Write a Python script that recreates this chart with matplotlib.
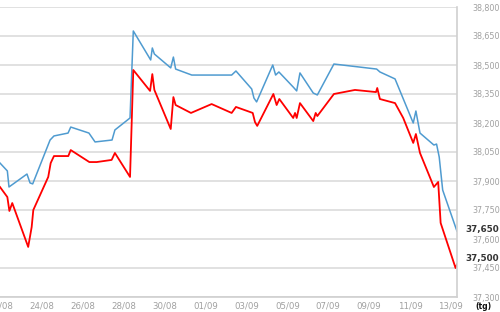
import matplotlib
matplotlib.use("Agg")
import matplotlib.pyplot as plt
import matplotlib.transforms as mtransforms

# x = days since 22/08, y = price
blue_x = [-0.05, 0.31, 0.39, 1.27, 1.42, 1.55, 2.40, 2.59, 3.28, 3.41, 4.30, 4.60, 5.43, 5.57,
          6.31, 6.47, 7.32, 7.40, 7.50, 8.30, 8.43, 8.54, 9.33, 11.28, 11.49, 12.26, 12.37,
          12.50, 13.29, 13.43, 13.59, 14.29, 14.46, 14.62, 15.27, 15.47, 16.28, 18.37, 18.53,
          19.27, 20.16, 20.29, 20.49, 21.17, 21.30, 21.43, 21.60, 22.30]
blue_y = [37993, 37952, 37869, 37936, 37890, 37885, 38112, 38133, 38148, 38179, 38148, 38102,
          38112, 38164, 38226, 38676, 38526, 38588, 38557, 38485, 38541, 38479, 38448, 38448,
          38469, 38376, 38329, 38309, 38500, 38448, 38464, 38386, 38366, 38459, 38355, 38345,
          38505, 38479, 38464, 38428, 38200, 38262, 38148, 38086, 38091, 38024, 37853, 37640]

red_x = [-0.05, 0.31, 0.41, 0.55, 1.33, 1.50, 1.58, 2.31, 2.43, 2.59, 3.29, 3.41, 4.32, 4.68,
         5.41, 5.57, 6.31, 6.47, 7.29, 7.40, 7.50, 8.30, 8.43, 8.54, 9.29, 10.30, 11.28, 11.49,
         12.31, 12.42, 12.53, 13.32, 13.48, 13.61, 14.29, 14.38, 14.46, 14.62, 15.27, 15.39,
         15.47, 16.28, 17.31, 18.34, 18.40, 18.53, 19.27, 19.67, 20.16, 20.29, 20.49, 21.17,
         21.38, 21.50, 22.23, 22.31]
red_y = [37869, 37817, 37745, 37786, 37559, 37662, 37750, 37921, 37993, 38029, 38029, 38060,
         37998, 37998, 38009, 38045, 37921, 38474, 38366, 38453, 38371, 38169, 38334, 38293,
         38252, 38298, 38252, 38283, 38252, 38205, 38185, 38350, 38293, 38324, 38226, 38252,
         38226, 38303, 38210, 38252, 38236, 38350, 38371, 38360, 38381, 38324, 38303, 38226,
         38097, 38143, 38045, 37869, 37895, 37683, 37450, 37471]

x_ticks = [0, 2, 4, 6, 8, 10, 12, 14, 16, 18, 20, 22]
x_labels = ['22/08', '24/08', '26/08', '28/08', '30/08', '01/09', '03/09', '05/09',
            '07/09', '09/09', '11/09', '13/09']
y_ticks = [37300, 37450, 37600, 37750, 37900, 38050, 38200, 38350, 38500, 38650, 38800]
last_values = [37650, 37500]

fig = plt.figure(figsize=(5, 3.12), dpi=100)
ax = fig.add_axes([0, 15 / 312, 457 / 500, 290 / 312])

ax.plot(blue_x, blue_y, color='#4f9bd0', linewidth=1.1)
ax.plot(red_x, red_y, color='#ff0000', linewidth=1.3)

ax.set_xlim(-0.049, 22.30)
ax.set_ylim(37300, 38800)

ax.set_yticks(y_ticks)
ax.set_yticklabels([f"{v:,}" for v in y_ticks])
ax.yaxis.tick_right()
ax.tick_params(axis='y', length=0, pad=11, labelsize=5.8, labelcolor='#a0a0a0')
ax.set_xticks(x_ticks)
ax.set_xticklabels(x_labels)
ax.tick_params(axis='x', length=0, pad=3, labelsize=6.2, labelcolor='#a0a0a0')

ax.grid(axis='y', color='#dcdcdc', linewidth=1.2)
ax.set_axisbelow(True)
for side in ['left', 'top']:
    ax.spines[side].set_visible(False)
for side in ['right', 'bottom']:
    ax.spines[side].set_color('#d0d0d0')
    ax.spines[side].set_linewidth(1.2)

trans = mtransforms.blended_transform_factory(ax.transAxes, ax.transData)
for v in last_values:
    ax.text(1.018, v, f"{v:,}", transform=trans, ha='left', va='center',
            fontsize=6.3, fontweight='bold', color='#333333')

# unit label under the right axis
fig.text(475 / 500, 1 - 306.5 / 312, '(tg)', ha='left', va='center',
         fontsize=5.6, fontweight='bold', color='#111111')

fig.savefig('out.png', dpi=100)
